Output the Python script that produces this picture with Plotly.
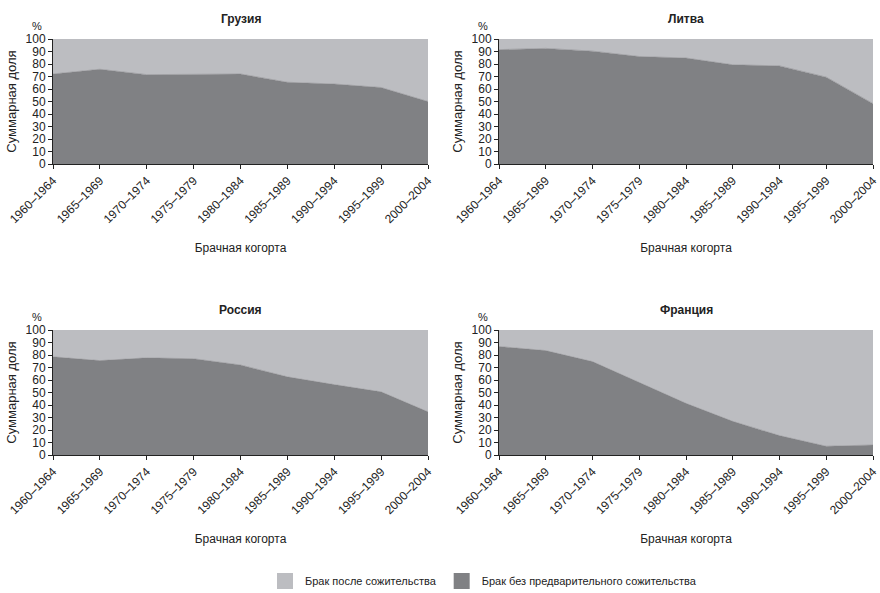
import plotly.graph_objects as go

cohorts = ["1960–1964", "1965–1969", "1970–1974", "1975–1979", "1980–1984",
           "1985–1989", "1990–1994", "1995–1999", "2000–2004"]

countries = ["Грузия", "Литва", "Россия", "Франция"]

# share of marriages without prior cohabitation, %
georgia = [72, 75.8, 71.5, 71.5, 72, 65.4, 64, 61.2, 50]
lithuania = [91.5, 92.5, 90.3, 86, 84.8, 79.4, 78.5, 69.5, 48.3]
russia = [78.5, 75.5, 77.7, 77, 72, 62.5, 56.3, 50.5, 34.5]
france = [86.8, 83.5, 74.7, 58, 41.3, 26.9, 15.5, 7, 8]

series = [georgia, lithuania, russia, france]

name_after = "Брак после сожительства"
name_without = "Брак без предварительного сожительства"

light = "#bcbdc1"
dark = "#808184"
FONT = "Liberation Sans Narrow, Arial Narrow, Liberation Sans, Arial, sans-serif"

W, H = 880, 593
xdoms = [(53 / W, 428 / W), (499 / W, 873 / W)]
ydoms = [(1 - 164 / H, 1 - 39 / H), (1 - 455 / H, 1 - 330 / H)]

fig = go.Figure()
layout = dict()
annotations = []

for i, (country, vals) in enumerate(zip(countries, series)):
    r, c = divmod(i, 2)
    k = "" if i == 0 else str(i + 1)
    xa, ya = "x" + k, "y" + k
    rest = [100 - v for v in vals]
    fig.add_trace(go.Scatter(x=cohorts, y=vals, xaxis=xa, yaxis=ya, stackgroup="s" + k,
                             mode="lines", line=dict(width=0.5, color=dark),
                             fillcolor=dark, showlegend=False, name=name_without,
                             hoverinfo="skip"))
    fig.add_trace(go.Scatter(x=cohorts, y=rest, xaxis=xa, yaxis=ya, stackgroup="s" + k,
                             mode="lines", line=dict(width=0.5, color=light),
                             fillcolor=light, showlegend=False, name=name_after,
                             hoverinfo="skip"))
    layout["xaxis" + k] = dict(domain=xdoms[c], anchor=ya, type="category",
                               range=[0, 8], showline=True, linecolor="#222",
                               linewidth=1, ticks="outside", ticklen=4,
                               tickcolor="#222", tickangle=-45, showgrid=False,
                               zeroline=False, automargin=False,
                               tickfont=dict(size=12, color="#222"),
                               title=dict(text="Брачная когорта", standoff=18,
                                          font=dict(size=12, color="#222")))
    layout["yaxis" + k] = dict(domain=ydoms[r], anchor=xa, range=[0, 100], dtick=10,
                               showline=True, linecolor="#222", linewidth=1,
                               ticks="outside", ticklen=4, tickcolor="#222",
                               showgrid=False, zeroline=False, automargin=False,
                               tickfont=dict(size=12, color="#222"),
                               title=dict(text="Суммарная доля", standoff=6,
                                          font=dict(size=13, color="#222")))
    xc = (xdoms[c][0] + xdoms[c][1]) / 2
    annotations.append(dict(text="<b>" + country + "</b>", x=xc, y=ydoms[r][1] + 20 / H,
                            xref="paper", yref="paper", xanchor="center",
                            yanchor="middle", showarrow=False,
                            font=dict(size=12, color="#222")))
    annotations.append(dict(text="%", x=xdoms[c][0] - 16 / W, y=ydoms[r][1] + 13 / H,
                            xref="paper", yref="paper", xanchor="center",
                            yanchor="middle", showarrow=False,
                            font=dict(size=11, color="#222")))

# legend entries
fig.add_trace(go.Scatter(x=[None], y=[None], mode="markers", name=name_after,
                         marker=dict(symbol="square", size=16, color=light),
                         showlegend=True))
fig.add_trace(go.Scatter(x=[None], y=[None], mode="markers", name=name_without,
                         marker=dict(symbol="square", size=16, color=dark),
                         showlegend=True))

fig.update_layout(**layout)
fig.update_layout(
    width=W, height=H,
    margin=dict(l=0, r=0, t=0, b=0, autoexpand=False),
    paper_bgcolor="white", plot_bgcolor="white",
    font=dict(family=FONT, size=12, color="#222"),
    annotations=annotations,
    legend=dict(orientation="h", x=265 / W, y=1 - 581 / H, xanchor="left",
                yanchor="middle", font=dict(size=11, color="#222"),
                traceorder="normal", itemwidth=30, tracegroupgap=0,
                bgcolor="rgba(0,0,0,0)"),
)

fig.write_html("out.html",
               config={"displayModeBar": False},
               post_script="document.body.style.margin='0';"
                           "document.body.style.overflow='hidden';")
